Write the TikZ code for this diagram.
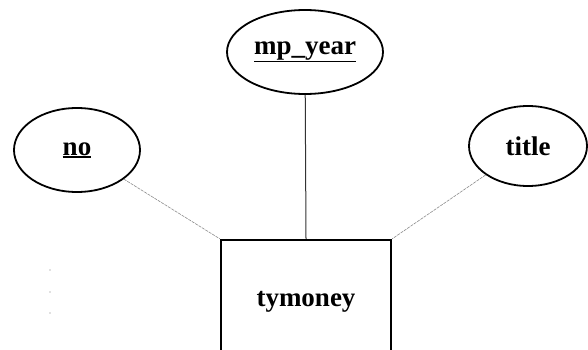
\documentclass[tikz,border=0pt]{standalone}
\usepackage{fontspec}
\setmainfont{Liberation Serif}
\usetikzlibrary{shapes.geometric}
% key attributes: a heavier underline set close under the text
\newcommand\keyattr[1]{\leavevmode\vtop{\hbox{#1}\kern0.5pt\hrule height 1.6pt}}
\begin{document}
\begin{tikzpicture}[x=1pt,y=-1pt,
  attr/.style={draw=black,line width=1.8pt,ellipse,inner sep=0pt,
    font=\fontsize{27}{30}\selectfont\bfseries},
  entity/.style={draw=black,line width=2.4pt,rectangle,inner sep=0pt,
    minimum width=170pt,minimum height=124pt,
    font=\fontsize{27}{30}\selectfont\bfseries},
  link/.style={line width=0.6pt,draw=black!45,dash pattern=on 3pt off 1pt},
  keylink/.style={line width=1pt,draw=black!80}]
\useasboundingbox (0,0) rectangle (588,350);
\clip (0,0) rectangle (588,350);
\fill[white] (0,0) rectangle (588,350);

% entity set
\node[entity] (ent) at (306,302) {tymoney};

% attributes
\node[attr,minimum width=126pt,minimum height=84pt] (no) at (77,150)
  {\keyattr{no}};
\node[attr,minimum width=156pt,minimum height=84pt] (year) at (305,52)
  {\keyattr{mp\_year}};
\node[attr,minimum width=118pt,minimum height=80pt] (title) at (528,146)
  {title};

% connectors
\draw[link] (no) -- (ent.north west);
\draw[link] (title) -- (ent.north east);
\draw[keylink] (year) -- (ent.north);

% stray marks at the left
\foreach \py in {270,292,313}
  \fill[black!50] (50,\py) circle (0.7pt);
\end{tikzpicture}
\end{document}
